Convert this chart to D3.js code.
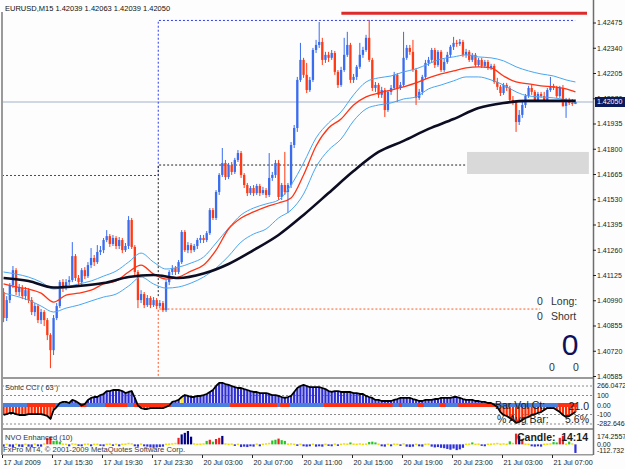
<!DOCTYPE html>
<html>
<head>
<meta charset="utf-8">
<script src="https://cdn.jsdelivr.net/npm/d3@7"></script>
<style>
  html, body { margin: 0; padding: 0; background: #fcfdfc; }
  svg { display: block; font-family: "Liberation Sans", Arial, sans-serif; }
</style>
</head>
<body>
<div id="chart"></div>
<script>
// -----------------------------
// DATA (EURUSD M15, 17 Jul 2009 11:30 -> 21 Jul 2009)
// -----------------------------
const opens = [1.41034,1.40895,1.40991,1.41071,1.41151,1.41034,1.41055,1.41012,1.41044,1.40991,
  1.40927,1.40959,1.40884,1.40927,1.40884,1.40804,1.40723,1.40895,1.40959,1.41087,
  1.41055,1.41087,1.41098,1.41226,1.41109,1.41087,1.41151,1.41119,1.41178,1.41216,
  1.41194,1.41248,1.41258,1.41312,1.41333,1.41291,1.41323,1.41280,1.41312,1.41258,
  1.41280,1.41419,1.41275,1.41141,1.40991,1.41023,1.40964,1.41002,1.40964,1.40991,
  1.40959,1.40975,1.40937,1.41087,1.41141,1.41162,1.41141,1.41194,1.41355,1.41258,
  1.41285,1.41258,1.41280,1.41312,1.41323,1.41312,1.41349,1.41472,1.41430,1.41569,
  1.41660,1.41724,1.41649,1.41713,1.41676,1.41740,1.41777,1.41660,1.41606,1.41563,
  1.41590,1.41563,1.41601,1.41563,1.41579,1.41553,1.41644,1.41660,1.41724,1.41542,
  1.41606,1.41569,1.41606,1.41820,1.41911,1.42168,1.42275,1.42195,1.42114,1.42168,
  1.42328,1.42355,1.42371,1.42275,1.42302,1.42286,1.42312,1.42211,1.42141,1.42221,
  1.42302,1.42355,1.42168,1.42184,1.42238,1.42302,1.42328,1.42393,1.42275,1.42125,
  1.42141,1.42088,1.42114,1.42007,1.42104,1.42125,1.42195,1.42125,1.42141,1.42286,
  1.42339,1.42318,1.42221,1.42072,1.42104,1.42184,1.42259,1.42275,1.42328,1.42248,
  1.42318,1.42221,1.42264,1.42302,1.42345,1.42366,1.42361,1.42371,1.42302,1.42318,
  1.42275,1.42302,1.42248,1.42275,1.42243,1.42264,1.42232,1.42243,1.42157,1.42131,
  1.42098,1.42141,1.42125,1.42061,1.42050,1.41943,1.41981,1.42034,1.42082,1.42125,
  1.42104,1.42061,1.42093,1.42082,1.42061,1.42114,1.42136,1.42125,1.42082,1.42125,
  1.42029,1.42061,1.42045,1.42039];

const highs = [1.41055,1.41012,1.41082,1.41173,1.41162,1.41077,1.41071,1.41061,1.41055,1.41007,
  1.40975,1.40970,1.40943,1.40937,1.40895,1.40814,1.40911,1.40975,1.41098,1.41103,
  1.41103,1.41119,1.41301,1.41237,1.41125,1.41162,1.41167,1.41194,1.41269,1.41232,
  1.41285,1.41280,1.41323,1.41365,1.41344,1.41339,1.41333,1.41328,1.41323,1.41296,
  1.41440,1.41430,1.41285,1.41151,1.41044,1.41034,1.41018,1.41012,1.41007,1.41002,
  1.40991,1.40986,1.41098,1.41151,1.41178,1.41173,1.41205,1.41365,1.41365,1.41301,
  1.41296,1.41291,1.41323,1.41339,1.41339,1.41360,1.41483,1.41483,1.41579,1.41670,
  1.41804,1.41740,1.41724,1.41729,1.41751,1.41793,1.41788,1.41670,1.41617,1.41601,
  1.41606,1.41612,1.41612,1.41596,1.41590,1.41777,1.41676,1.41740,1.41740,1.41617,
  1.41783,1.41617,1.41836,1.41927,1.42184,1.42366,1.42286,1.42259,1.42184,1.42339,
  1.42382,1.42478,1.42393,1.42318,1.42318,1.42328,1.42323,1.42221,1.42238,1.42393,
  1.42425,1.42366,1.42200,1.42248,1.42366,1.42345,1.42409,1.42489,1.42286,1.42157,
  1.42152,1.42131,1.42125,1.42114,1.42141,1.42211,1.42205,1.42157,1.42425,1.42355,
  1.42355,1.42382,1.42232,1.42120,1.42195,1.42275,1.42291,1.42339,1.42339,1.42328,
  1.42328,1.42280,1.42318,1.42355,1.42398,1.42382,1.42387,1.42382,1.42334,1.42328,
  1.42312,1.42312,1.42286,1.42286,1.42275,1.42275,1.42254,1.42254,1.42179,1.42141,
  1.42152,1.42152,1.42136,1.42082,1.42061,1.42007,1.42061,1.42093,1.42136,1.42141,
  1.42114,1.42104,1.42104,1.42104,1.42125,1.42184,1.42147,1.42136,1.42136,1.42141,
  1.42072,1.42072,1.42066,1.42063];

const lows = [1.40873,1.40879,1.40975,1.41055,1.41018,1.41012,1.40996,1.40991,1.40975,1.40911,
  1.40905,1.40868,1.40863,1.40852,1.40777,1.40627,1.40697,1.40884,1.40948,1.41034,
  1.41044,1.41071,1.41087,1.41093,1.41066,1.41071,1.41103,1.41109,1.41162,1.41173,
  1.41184,1.41232,1.41242,1.41301,1.41275,1.41280,1.41264,1.41264,1.41242,1.41248,
  1.41264,1.41264,1.41125,1.40948,1.40975,1.40948,1.40954,1.40948,1.40954,1.40943,
  1.40948,1.40927,1.40927,1.41071,1.41125,1.41125,1.41130,1.41184,1.41248,1.41242,
  1.41242,1.41248,1.41264,1.41296,1.41296,1.41301,1.41339,1.41419,1.41419,1.41553,
  1.41649,1.41633,1.41638,1.41660,1.41665,1.41729,1.41644,1.41590,1.41547,1.41553,
  1.41547,1.41553,1.41547,1.41553,1.41537,1.41542,1.41628,1.41644,1.41526,1.41526,
  1.41553,1.41456,1.41590,1.41804,1.41890,1.42157,1.42179,1.42098,1.42104,1.42157,
  1.42312,1.42339,1.42248,1.42259,1.42264,1.42275,1.42195,1.42125,1.42131,1.42211,
  1.42291,1.42152,1.42152,1.42168,1.42227,1.42286,1.42318,1.42264,1.42109,1.42104,
  1.42072,1.42072,1.41970,1.41997,1.42088,1.42114,1.42050,1.42114,1.42131,1.42275,
  1.42302,1.42211,1.42034,1.42061,1.42088,1.42173,1.42243,1.42259,1.42232,1.42238,
  1.42211,1.42211,1.42254,1.42286,1.42328,1.42345,1.42350,1.42291,1.42286,1.42264,
  1.42264,1.42238,1.42238,1.42232,1.42232,1.42221,1.42221,1.42147,1.42114,1.42082,
  1.42088,1.42109,1.42050,1.42034,1.41890,1.41927,1.41965,1.42018,1.42072,1.42088,
  1.42050,1.42050,1.42072,1.42050,1.42050,1.42104,1.42114,1.42072,1.42072,1.42024,
  1.41965,1.42034,1.42029,1.42039];

const closes = [1.40895,1.40991,1.41071,1.41151,1.41034,1.41055,1.41012,1.41044,1.40991,1.40927,
  1.40959,1.40884,1.40927,1.40884,1.40804,1.40723,1.40895,1.40959,1.41087,1.41055,
  1.41087,1.41098,1.41226,1.41109,1.41087,1.41151,1.41119,1.41178,1.41216,1.41194,
  1.41248,1.41258,1.41312,1.41333,1.41291,1.41323,1.41280,1.41312,1.41258,1.41280,
  1.41419,1.41275,1.41141,1.40991,1.41023,1.40964,1.41002,1.40964,1.40991,1.40959,
  1.40975,1.40937,1.41087,1.41141,1.41162,1.41141,1.41194,1.41355,1.41258,1.41285,
  1.41258,1.41280,1.41312,1.41323,1.41312,1.41349,1.41472,1.41430,1.41569,1.41660,
  1.41724,1.41649,1.41713,1.41676,1.41740,1.41777,1.41660,1.41606,1.41563,1.41590,
  1.41563,1.41601,1.41563,1.41579,1.41553,1.41644,1.41660,1.41724,1.41542,1.41606,
  1.41569,1.41606,1.41820,1.41911,1.42168,1.42275,1.42195,1.42114,1.42168,1.42328,
  1.42355,1.42371,1.42275,1.42302,1.42286,1.42312,1.42211,1.42141,1.42221,1.42302,
  1.42355,1.42168,1.42184,1.42238,1.42302,1.42328,1.42393,1.42275,1.42125,1.42141,
  1.42088,1.42114,1.42007,1.42104,1.42125,1.42195,1.42125,1.42141,1.42286,1.42339,
  1.42318,1.42221,1.42072,1.42104,1.42184,1.42259,1.42275,1.42328,1.42248,1.42318,
  1.42221,1.42264,1.42302,1.42345,1.42366,1.42361,1.42371,1.42302,1.42318,1.42275,
  1.42302,1.42248,1.42275,1.42243,1.42264,1.42232,1.42243,1.42157,1.42131,1.42098,
  1.42141,1.42125,1.42061,1.42050,1.41943,1.41981,1.42034,1.42082,1.42125,1.42104,
  1.42061,1.42093,1.42082,1.42061,1.42114,1.42136,1.42125,1.42082,1.42125,1.42029,
  1.42061,1.42045,1.42040,1.42050];

// moving averages, read every 4 bars (fast) and every 8 bars (slow)
const fastBars = d3.range(0, 181, 4).concat([183]);
const slowBars = d3.range(0, 177, 8).concat([183]);
const emaRed = [1.41077,1.41061,1.41050,1.41028,1.40980,1.41018,1.41028,1.41044,1.41077,1.41093,
  1.41141,1.41178,1.41130,1.41103,1.41114,1.41146,1.41178,1.41258,1.41371,1.41430,
  1.41462,1.41489,1.41510,1.41537,1.41660,1.41815,1.41911,1.41959,1.42034,1.42077,
  1.42098,1.42114,1.42131,1.42152,1.42179,1.42200,1.42216,1.42232,1.42238,1.42232,
  1.42189,1.42157,1.42147,1.42136,1.42131,1.42120,1.42104];
const bandUpper = [1.41141,1.41130,1.41114,1.41087,1.41050,1.41061,1.41077,1.41093,1.41119,1.41146,
  1.41194,1.41242,1.41194,1.41157,1.41167,1.41189,1.41221,1.41296,1.41376,1.41446,
  1.41483,1.41505,1.41526,1.41606,1.41724,1.41858,1.41938,1.41997,1.42088,1.42157,
  1.42179,1.42189,1.42211,1.42227,1.42254,1.42280,1.42291,1.42302,1.42291,1.42286,
  1.42270,1.42238,1.42216,1.42200,1.42189,1.42168,1.42157];
const bandLower = [1.41028,1.41012,1.40991,1.40959,1.40927,1.40948,1.40964,1.40986,1.41007,1.41023,
  1.41066,1.41114,1.41077,1.41055,1.41061,1.41082,1.41114,1.41162,1.41226,1.41301,
  1.41344,1.41371,1.41430,1.41472,1.41558,1.41703,1.41793,1.41852,1.41949,1.42013,
  1.42034,1.42045,1.42066,1.42077,1.42120,1.42141,1.42163,1.42184,1.42184,1.42168,
  1.42141,1.42104,1.42082,1.42077,1.42072,1.42061,1.42045];
const maSlow = [1.41109,1.41093,1.41058,1.41066,1.41082,1.41114,1.41125,1.41109,1.41133,1.41184,
  1.41258,1.41339,1.41446,1.41563,1.41681,1.41783,1.41842,1.41906,1.41959,1.42018,
  1.42045,1.42056,1.42056,1.42056];

// day levels and chart objects: [bar, price]
const blueLevel = [[0, 1.41657], [50, 1.41657], [50, 1.42486], [183.4, 1.42486]];
const blackLevel = [[50, 1.41012], [50, 1.41713], [187.5, 1.41713]];
const orangeLevel = [[50, 1.40500], [50, 1.40943], [172.2, 1.40943]];
const redLevel = [[108.6, 1.42524], [187.2, 1.42524]];
const boxBars = [148.8, 187.8];
const boxPrices = [1.41783, 1.41665];
const bidPrice = 1.42050;

const priceTicks = [1.42475,1.42340,1.42205,1.42070,1.41935,1.41800,1.41665,1.41530,
  1.41395,1.41260,1.41125,1.40990,1.40855,1.40720,1.40585];

const timeBars = [0,16,32,48,64,80,96,112,128,144,160,176];
const timeLabels = ["17 Jul 2009","17 Jul 15:30","17 Jul 19:30","17 Jul 23:30","20 Jul 03:00",
  "20 Jul 07:00","20 Jul 11:00","20 Jul 15:00","20 Jul 19:00","20 Jul 23:00","21 Jul 03:00","21 Jul 07:00"];

// Sonic CCI (63)
const cciValues = [-105,-95,-84,-84,-95,-105,-105,-105,-95,-95,
  -95,-95,-95,-105,-116,-147,-53,-21,21,32,
  32,21,53,42,21,-5,11,53,74,84,
  84,105,116,147,147,158,158,158,147,126,
  137,147,74,-5,-32,-42,-42,-32,-32,-32,
  -32,-32,-21,-5,32,42,53,84,105,95,
  84,84,95,95,105,116,137,158,200,232,
  232,221,211,200,189,179,179,168,158,147,
  137,137,126,126,126,116,105,105,95,84,
  74,84,95,137,179,200,211,200,189,189,
  189,189,179,168,147,137,147,147,137,137,
  137,137,126,126,116,116,95,84,74,53,
  53,42,42,42,42,53,63,74,74,74,
  74,63,53,42,42,53,53,53,63,63,
  74,74,74,74,84,84,74,63,53,53,
  53,42,42,32,32,21,21,3,-21,-74,
  -105,-116,-137,-158,-189,-179,-158,-137,-126,-105,
  -95,-84,-74,-53,-32,-32,-32,-53,-74,-105,
  -126,-116,-95,-74];
const cciYellowBars = [57];
const cciRedRuns = [[8,16],[25,26],[33,39],[42,53],[73,87],[89,91],[103,124],[127,127],
  [133,134],[140,141],[146,157],[178,183]];
const cciLevels = [200, 100, -100, -200];
const cciLabels = [["266.0472", 266.0472], ["100", 100], ["0.00", 0],
  ["-100", -100], ["-282.646", -282.646]];

// NVO Enhanced (10)
const nvoValues = [-30,10,-30,-35,10,-30,-35,10,-30,-35,
  12,-25,-30,15,85,95,45,50,35,12,
  10,-25,15,10,-20,-25,10,12,-25,10,
  10,-20,-25,10,12,-20,10,-25,10,12,
  20,15,-25,-30,12,-25,-30,-40,-45,-40,
  -35,-30,10,12,15,20,85,130,150,174,
  100,15,10,12,15,45,60,35,70,85,
  110,15,10,12,-20,10,-35,-30,-35,-25,
  -30,12,-25,10,15,20,50,60,75,55,
  45,12,15,10,-20,10,-25,-30,-25,10,
  -30,-25,-30,10,-20,-25,12,-20,10,15,
  12,25,12,10,15,10,12,30,35,25,
  12,-25,-30,10,-25,12,10,-20,15,-30,
  -35,-30,10,-25,-30,10,12,-30,-40,-35,
  -45,-50,-60,-70,-55,-75,-65,-45,10,12,
  25,10,12,-20,-25,10,12,15,20,12,
  15,10,40,20,140,110,70,12,10,-25,
  -30,-25,-30,10,12,15,30,25,85,110,
  12,35,15,-112];
const nvoKinds = ("bybbybbybb" + "ybbyrrgggy" + "ybyybbyyby" + "ybbyybybyy" + "yybbybbbbb" +
  "bbyyyyrnnn" + "nyyyygrgrr" + "nyyybybbbb" + "bybyyyggrg" + "gyyybybbby" +
  "bbbybbybyy" + "ygyyyyyggg" + "ybbybyybyb" + "bbybbyybbb" + "bbbbbbbbyy" +
  "gyybbyyyyy" + "yygyrnryyb" + "bbbyyyggrr" + "ygyb").split("");
const nvoLabels = [["174.2557", 174.2557], ["0.00", 0], ["-112.732", -112.732]];

// -----------------------------
// LAYOUT + SCALES
// -----------------------------
const W = 625, H = 469;
const left = 2, right = 593;
const mainBottom = 377;
const cciTop = 380, cciBottom = 428;
const nvoTop = 430, nvoBottom = 454;

const bull = "#3a6cf0", bear = "#ff3a14";
const nvoColors = { y: "#f4dc00", g: "#22c422", r: "#ee2020", n: "#000080", b: "#3030d8" };

const x = d3.scaleLinear().domain([0, 189.12]).range([left, right]);
const y = d3.scaleLinear().domain([1.40585, 1.42475]).range([376, 22.5]);
const cciY = d3.scaleLinear().domain([-100, 100]).range([414.5, 395.5]);
const nvoY = d3.scaleLinear().domain([-112.732, 174.2557]).range([453, 431]);

const svg = d3.select("#chart")
  .append("svg")
  .attr("width", W)
  .attr("height", H)
  .style("background", "#fcfdfc");

const defs = svg.append("defs");
[["clip-main", 0, mainBottom], ["clip-cci", cciTop, cciBottom], ["clip-nvo", nvoTop, nvoBottom]]
  .forEach(([id, t, b]) => {
    defs.append("clipPath").attr("id", id)
      .append("rect").attr("x", left).attr("y", t).attr("width", right - left).attr("height", b - t);
  });

// -----------------------------
// MAIN PRICE PANEL
// -----------------------------
const main = svg.append("g").attr("clip-path", "url(#clip-main)");

// bid line
main.append("line")
  .attr("x1", left).attr("x2", right)
  .attr("y1", y(bidPrice)).attr("y2", y(bidPrice))
  .attr("stroke", "#cfd6e4").attr("stroke-width", 2);

const levelLine = d3.line().x(d => x(d[0])).y(d => y(d[1]));
main.append("path").datum(blueLevel).attr("d", levelLine)
  .attr("fill", "none").attr("stroke", "#2f3cf0").attr("stroke-width", 1).attr("stroke-dasharray", "2,2");
main.append("path").datum(blackLevel).attr("d", levelLine)
  .attr("fill", "none").attr("stroke", "#222").attr("stroke-width", 1).attr("stroke-dasharray", "2,2");
main.append("path").datum(orangeLevel).attr("d", levelLine)
  .attr("fill", "none").attr("stroke", "#ff5a2a").attr("stroke-width", 1).attr("stroke-dasharray", "2,2");

// gray rectangle object
main.append("rect")
  .attr("x", x(boxBars[0])).attr("width", x(boxBars[1]) - x(boxBars[0]))
  .attr("y", y(boxPrices[0])).attr("height", y(boxPrices[1]) - y(boxPrices[0]))
  .attr("fill", "#d9d9d9");

// red horizontal line object
main.append("path").datum(redLevel).attr("d", levelLine)
  .attr("fill", "none").attr("stroke", "#dd2a2a").attr("stroke-width", 3);

// candles
const candles = closes.map((c, i) => ({ i, o: opens[i], h: highs[i], l: lows[i], c }));
const cg = main.append("g");
cg.selectAll("line")
  .data(candles)
  .join("line")
  .attr("x1", d => x(d.i + 0.5)).attr("x2", d => x(d.i + 0.5))
  .attr("y1", d => y(d.h)).attr("y2", d => y(d.l))
  .attr("stroke", d => d.c >= d.o ? bull : bear)
  .attr("stroke-width", 1);
cg.selectAll("rect")
  .data(candles)
  .join("rect")
  .attr("x", d => x(d.i + 0.5) - 1.15)
  .attr("width", 2.3)
  .attr("y", d => y(Math.max(d.o, d.c)))
  .attr("height", d => Math.max(1, Math.abs(y(d.o) - y(d.c))))
  .attr("fill", d => d.c >= d.o ? bull : bear);

// indicator lines
const maLine = d3.line().x(d => x(d[0] + 0.5)).y(d => y(d[1])).curve(d3.curveMonotoneX);
main.append("path").datum(d3.zip(fastBars, bandUpper)).attr("d", maLine)
  .attr("fill", "none").attr("stroke", "#4aa6f2").attr("stroke-width", 1);
main.append("path").datum(d3.zip(fastBars, bandLower)).attr("d", maLine)
  .attr("fill", "none").attr("stroke", "#4aa6f2").attr("stroke-width", 1);
main.append("path").datum(d3.zip(fastBars, emaRed)).attr("d", maLine)
  .attr("fill", "none").attr("stroke", "#ff3416").attr("stroke-width", 1.3);
main.append("path").datum(d3.zip(slowBars, maSlow)).attr("d", maLine)
  .attr("fill", "none").attr("stroke", "#0c0c22").attr("stroke-width", 2.6);

// -----------------------------
// SONIC CCI PANEL
// -----------------------------
const cci = svg.append("g").attr("clip-path", "url(#clip-cci)");

cci.selectAll("line.lvl")
  .data(cciLevels)
  .join("line")
  .attr("class", "lvl")
  .attr("x1", left).attr("x2", right)
  .attr("y1", d => cciY(d)).attr("y2", d => cciY(d))
  .attr("stroke", "#8a8a8a").attr("stroke-width", 1).attr("stroke-dasharray", "2,2");

cci.selectAll("rect.bar")
  .data(cciValues.map((v, i) => ({ v, i })))
  .join("rect")
  .attr("class", "bar")
  .attr("x", d => x(d.i + 0.5) - 1.1)
  .attr("width", 2.2)
  .attr("y", d => Math.min(cciY(d.v), cciY(0)))
  .attr("height", d => Math.abs(cciY(d.v) - cciY(0)))
  .attr("fill", d => cciYellowBars.includes(d.i) ? "#ffe800" : (d.v >= 0 ? "#2e2ed2" : "#ff2a00"));

// zero band: blue with red runs
cci.append("rect")
  .attr("x", x(0)).attr("width", x(closes.length) - x(0))
  .attr("y", cciY(0) - 2).attr("height", 4)
  .attr("fill", "#4b7fdc");
cci.selectAll("rect.run")
  .data(cciRedRuns)
  .join("rect")
  .attr("class", "run")
  .attr("x", d => x(d[0])).attr("width", d => x(d[1] + 1) - x(d[0]))
  .attr("y", cciY(0) - 2).attr("height", 4)
  .attr("fill", "#ff3010");

cci.append("path")
  .datum(cciValues)
  .attr("d", d3.line().x((d, i) => x(i + 0.5)).y(d => cciY(d)))
  .attr("fill", "none").attr("stroke", "#000").attr("stroke-width", 1.8)
  .attr("stroke-linejoin", "round");

// -----------------------------
// NVO PANEL
// -----------------------------
const nvo = svg.append("g").attr("clip-path", "url(#clip-nvo)");
nvo.selectAll("rect")
  .data(nvoValues.map((v, i) => ({ v, i, k: nvoKinds[i] })))
  .join("rect")
  .attr("x", d => x(d.i + 0.5) - 1.1)
  .attr("width", 2.2)
  .attr("y", d => Math.min(nvoY(d.v), nvoY(0)))
  .attr("height", d => Math.max(1.5, Math.abs(nvoY(d.v) - nvoY(0))))
  .attr("fill", d => nvoColors[d.k]);

// -----------------------------
// FRAME
// -----------------------------
const frame = svg.append("g").attr("fill", "#9a9a9a");
frame.append("rect").attr("x", 1).attr("y", 12).attr("width", 2).attr("height", nvoBottom + 1 - 12);
frame.append("rect").attr("x", left).attr("y", mainBottom).attr("width", right - left).attr("height", 2);
frame.append("rect").attr("x", left).attr("y", cciBottom).attr("width", right - left).attr("height", 2);
frame.append("rect").attr("x", left).attr("y", nvoBottom).attr("width", right - left).attr("height", 1.5);
svg.append("line")
  .attr("x1", right + 0.5).attr("x2", right + 0.5).attr("y1", 0).attr("y2", nvoBottom + 1)
  .attr("stroke", "#6e6e6e").attr("stroke-width", 1.5);

// -----------------------------
// AXES
// -----------------------------
svg.append("g")
  .attr("transform", `translate(${right},0)`)
  .call(d3.axisRight(y).tickValues(priceTicks).tickFormat(d3.format(".5f")).tickSize(3).tickPadding(1))
  .call(g => g.select(".domain").remove())
  .attr("font-size", 7)
  .attr("font-family", "Liberation Sans, Arial, sans-serif")
  .attr("color", "#222");

// current price tag
svg.append("rect")
  .attr("x", right + 2).attr("width", W - right - 2)
  .attr("y", y(bidPrice) - 5).attr("height", 10)
  .attr("fill", "#0b1a5c");
svg.append("text")
  .attr("x", right + 4).attr("y", y(bidPrice) + 2.5)
  .attr("fill", "#fff").attr("font-size", 7)
  .text(d3.format(".5f")(bidPrice));

// cci + nvo value labels (kept inside their panels like MT4 does)
const rightLabels = svg.append("g").attr("font-size", 7).attr("fill", "#222");
rightLabels.selectAll("text.cci")
  .data(cciLabels)
  .join("text")
  .attr("class", "cci")
  .attr("x", right + 4)
  .attr("y", d => Math.max(cciTop + 5.5, Math.min(cciBottom - 4.5, cciY(d[1]))) + 2.5)
  .text(d => d[0]);
rightLabels.selectAll("text.nvo")
  .data(nvoLabels)
  .join("text")
  .attr("class", "nvo")
  .attr("x", right + 4)
  .attr("y", d => Math.max(nvoTop + 6.5, Math.min(nvoBottom - 4, nvoY(d[1]))) + 2.5)
  .text(d => d[0]);

svg.append("g")
  .attr("transform", `translate(0,${nvoBottom + 1})`)
  .call(d3.axisBottom(x).tickValues(timeBars).tickFormat((d, i) => timeLabels[i]).tickSize(3).tickPadding(2))
  .call(g => g.select(".domain").remove())
  .call(g => g.selectAll("text").attr("text-anchor", "start").attr("dx", 1))
  .attr("font-size", 7.2)
  .attr("font-family", "Liberation Sans, Arial, sans-serif")
  .attr("color", "#222");

// -----------------------------
// TEXTS
// -----------------------------
svg.append("text").attr("x", 5).attr("y", 11).attr("font-size", 7.5).attr("fill", "#111")
  .text("EURUSD,M15  1.42039 1.42063 1.42039 1.42050");
svg.append("text").attr("x", 5).attr("y", 390).attr("font-size", 7.5).attr("fill", "#333")
  .text("Sonic CCI  ( 63 )");
svg.append("text").attr("x", 5).attr("y", 440).attr("font-size", 7.5).attr("fill", "#333")
  .text("NVO Enhanced  (10)");
svg.append("text").attr("x", 3).attr("y", 452).attr("font-size", 7.6).attr("fill", "#3a3a3a")
  .text("FxPro MT4, © 2001-2009 MetaQuotes Software Corp.");

const info = svg.append("g").attr("fill", "#333").attr("font-size", 10.5);
info.append("text").attr("x", 537).attr("y", 305).text("0");
info.append("text").attr("x", 551).attr("y", 305).text("Long:");
info.append("text").attr("x", 537).attr("y", 320).text("0");
info.append("text").attr("x", 551).attr("y", 320).text("Short");
info.append("text").attr("x", 570).attr("y", 355).attr("text-anchor", "middle")
  .attr("font-size", 30).attr("fill", "#10105a").text("0");
info.append("text").attr("x", 549).attr("y", 371).text("0");
info.append("text").attr("x", 573).attr("y", 371).text("0");

const stats = svg.append("g").attr("fill", "#1c1c1c").attr("font-size", 10.5);
stats.append("text").attr("x", 495).attr("y", 409).text("Bar Vol Ct:");
stats.append("text").attr("x", 589).attr("y", 410).attr("text-anchor", "end").text("21.0");
stats.append("text").attr("x", 497).attr("y", 423).text("% Avg Bar:");
stats.append("text").attr("x", 589).attr("y", 423).attr("text-anchor", "end").text("5.6%");
stats.append("text").attr("x", 517).attr("y", 441).attr("font-weight", "bold").text("Candle:");
stats.append("text").attr("x", 588).attr("y", 441).attr("font-weight", "bold")
  .attr("text-anchor", "end").text("14:14");
</script>
</body>
</html>
